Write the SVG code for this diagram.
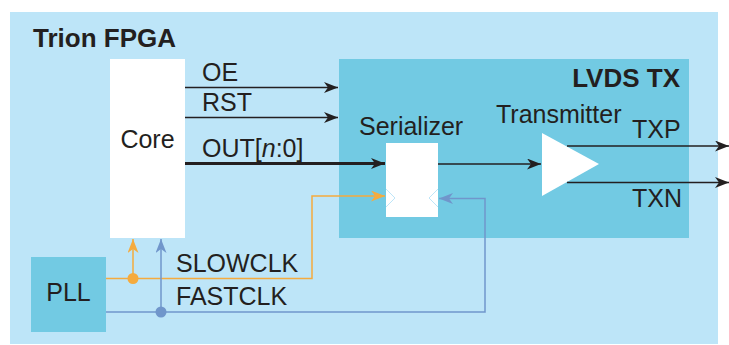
<svg xmlns="http://www.w3.org/2000/svg" width="729" height="345" viewBox="0 0 729 345">
<style>
text{font-family:"Liberation Sans",Arial,sans-serif;font-size:25px;fill:#231f20}
.b{font-weight:bold;font-size:26px}
.dk{stroke:#231f20;fill:none;stroke-width:1.5}
.or{stroke:#f5ab3e;fill:none;stroke-width:1.5}
.bl{stroke:#7096cb;fill:none;stroke-width:1.5}
.chev{stroke:#bde5f8;fill:none;stroke-width:1}
</style>
<defs>
<marker id="ak" markerWidth="14" markerHeight="11" viewBox="0 0 14 11" refX="14" refY="5.5" orient="auto" markerUnits="userSpaceOnUse"><path d="M0,0 L14,5.5 L0,11 L4,5.5 Z" fill="#231f20"/></marker>
<marker id="ao" markerWidth="14" markerHeight="11" viewBox="0 0 14 11" refX="14" refY="5.5" orient="auto" markerUnits="userSpaceOnUse"><path d="M0,0 L14,5.5 L0,11 L4,5.5 Z" fill="#f5ab3e"/></marker>
<marker id="ab" markerWidth="14" markerHeight="11" viewBox="0 0 14 11" refX="14" refY="5.5" orient="auto" markerUnits="userSpaceOnUse"><path d="M0,0 L14,5.5 L0,11 L4,5.5 Z" fill="#7096cb"/></marker>
</defs>
<g id="fpga">
<rect x="10" y="12" width="708" height="332" fill="#bde5f8"/>
<text class="b" x="33" y="47">Trion FPGA</text>
</g>
<g id="lvds">
<rect x="339" y="59" width="350" height="179" fill="#72cae3"/>
<text class="b" x="680" y="87" text-anchor="end">LVDS TX</text>
</g>
<g id="core">
<rect x="110" y="59" width="75" height="179" fill="#fff"/>
<text x="147.5" y="148" text-anchor="middle">Core</text>
</g>
<g id="pll">
<rect x="31" y="257" width="75" height="75" fill="#72cae3"/>
<text x="68.5" y="301" text-anchor="middle">PLL</text>
</g>
<g id="serializer">
<text x="359" y="135">Serializer</text>
<rect x="386" y="143" width="52" height="74" fill="#fff"/>
<path class="chev" d="M386,189 L395,198 L386,207"/>
<path class="chev" d="M438,189 L429,198 L438,207"/>
</g>
<g id="transmitter">
<text x="496" y="123">Transmitter</text>
<path d="M542,133 L599,164 L542,196 Z" fill="#fff"/>
</g>
<g id="connectors">
<line class="dk" x1="185" y1="87.5" x2="338" y2="87.5" marker-end="url(#ak)"/>
<line class="dk" x1="185" y1="117.5" x2="338" y2="117.5" marker-end="url(#ak)"/>
<line x1="185" y1="163.5" x2="385" y2="163.5" stroke="#231f20" stroke-width="3" marker-end="url(#ak)"/>
<line class="dk" x1="438" y1="164" x2="541" y2="164" marker-end="url(#ak)"/>
<line class="dk" x1="567" y1="146" x2="729" y2="146" marker-end="url(#ak)"/>
<line class="dk" x1="567" y1="182.5" x2="729" y2="182.5" marker-end="url(#ak)"/>
<polyline class="or" points="106,278.5 312,278.5 312,196 385,196" marker-end="url(#ao)"/>
<line class="or" x1="133" y1="278.5" x2="133" y2="239" marker-end="url(#ao)"/>
<circle cx="133" cy="278.5" r="5.5" fill="#f5ab3e"/>
<polyline class="bl" points="106,312 485,312 485,198.5 439,198.5" marker-end="url(#ab)"/>
<line class="bl" x1="161" y1="312" x2="161" y2="239" marker-end="url(#ab)"/>
<circle cx="161" cy="312" r="5.5" fill="#7096cb"/>
</g>
<g id="labels">
<text x="202" y="81">OE</text>
<text x="202" y="111">RST</text>
<text x="202" y="157">OUT[<tspan font-style="italic">n</tspan>:0]</text>
<text x="632" y="138">TXP</text>
<text x="632" y="207">TXN</text>
<text x="176" y="272">SLOWCLK</text>
<text x="176" y="305">FASTCLK</text>
</g>
</svg>
